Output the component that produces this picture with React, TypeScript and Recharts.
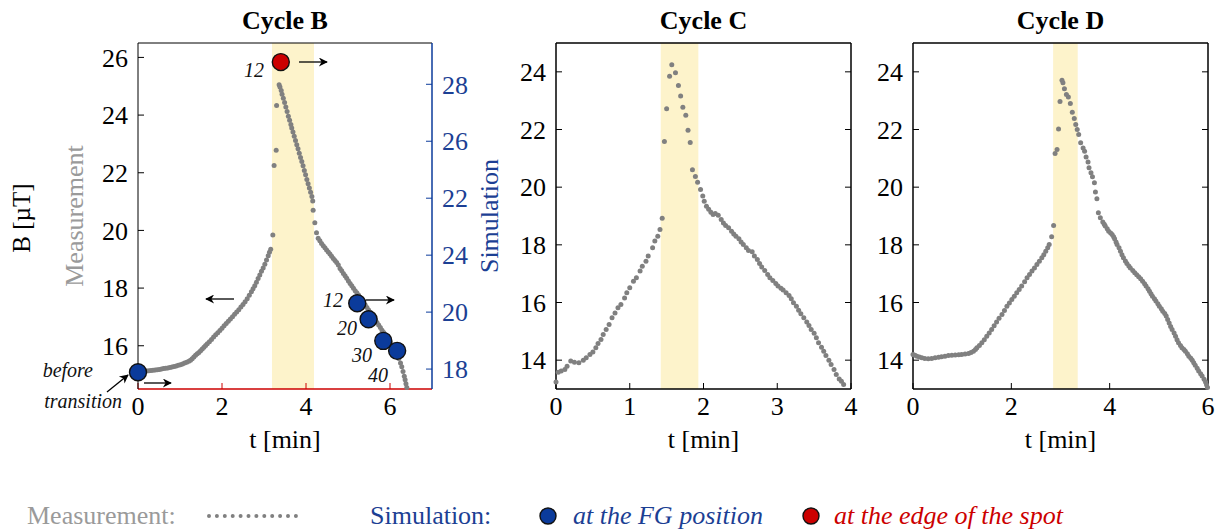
import { ScatterChart, Scatter, XAxis, YAxis, ReferenceArea } from 'recharts'

type Pt = [number, number]

const SERIF = '"Liberation Serif", "Times New Roman", serif'
const GRAY = '#808080'
const LABEL_GRAY = '#9a9a9a'
const BLUE = '#0b3b9b'
const TEXT_BLUE = '#1c3f94'
const RED = '#cc0000'
const SHADE = '#fdf3cb'

// ---- Cycle B measurement (t [min], B [uT]) ----
const cycleBMeasured: Pt[] = [
    [0.06, 15.09], [0.11, 15.1], [0.16, 15.11], [0.21, 15.12], [0.26, 15.13], [0.31, 15.14], [0.36, 15.15],
    [0.41, 15.16], [0.46, 15.17], [0.51, 15.18], [0.56, 15.19], [0.61, 15.21], [0.66, 15.22], [0.71, 15.23],
    [0.76, 15.25], [0.81, 15.26], [0.86, 15.28], [0.91, 15.3], [0.96, 15.32], [1.01, 15.34], [1.06, 15.37],
    [1.11, 15.4], [1.16, 15.43], [1.21, 15.46], [1.25, 15.5], [1.29, 15.55], [1.33, 15.61], [1.37, 15.67],
    [1.41, 15.72], [1.45, 15.77], [1.49, 15.83], [1.53, 15.89], [1.57, 15.95], [1.61, 16.01], [1.65, 16.07],
    [1.7, 16.14], [1.75, 16.22], [1.8, 16.3], [1.85, 16.38], [1.9, 16.45], [1.95, 16.53], [2.0, 16.61],
    [2.05, 16.69], [2.1, 16.77], [2.15, 16.85], [2.2, 16.93], [2.25, 17.01], [2.3, 17.09], [2.35, 17.17],
    [2.4, 17.25], [2.45, 17.34], [2.5, 17.43], [2.55, 17.53], [2.6, 17.63], [2.65, 17.75], [2.7, 17.87],
    [2.74, 17.98], [2.78, 18.08], [2.82, 18.2], [2.86, 18.33], [2.9, 18.45], [2.94, 18.58], [2.98, 18.7],
    [3.02, 18.83], [3.06, 18.97], [3.1, 19.12], [3.13, 19.24], [3.16, 19.35], [3.21, 19.84],
    [3.24, 22.25], [3.29, 22.78], [3.3, 24.33], [3.36, 25.05], [3.38, 24.97], [3.41, 24.85], [3.43, 24.72],
    [3.46, 24.58], [3.49, 24.44], [3.52, 24.28], [3.55, 24.12], [3.58, 23.96], [3.61, 23.82], [3.64, 23.67],
    [3.66, 23.55], [3.69, 23.41], [3.72, 23.27], [3.75, 23.12], [3.78, 22.97], [3.81, 22.83], [3.84, 22.68],
    [3.87, 22.53], [3.9, 22.39], [3.93, 22.24], [3.96, 22.08], [3.99, 21.93], [4.02, 21.77], [4.05, 21.62],
    [4.08, 21.47], [4.11, 21.32], [4.14, 21.18], [4.16, 21.02], [4.17, 20.7], [4.21, 20.27], [4.25, 19.92],
    [4.29, 19.73], [4.33, 19.64], [4.37, 19.55], [4.41, 19.47], [4.45, 19.4], [4.49, 19.32], [4.53, 19.25],
    [4.57, 19.18], [4.61, 19.1], [4.65, 19.03], [4.69, 18.96], [4.73, 18.89], [4.77, 18.8], [4.81, 18.68],
    [4.85, 18.6], [4.89, 18.51], [4.93, 18.43], [4.97, 18.34], [5.01, 18.25], [5.05, 18.16], [5.09, 18.08],
    [5.13, 17.99], [5.17, 17.91], [5.21, 17.84], [5.25, 17.76], [5.29, 17.67], [5.33, 17.58], [5.37, 17.5],
    [5.41, 17.41], [5.45, 17.33], [5.49, 17.24], [5.53, 17.16], [5.57, 17.07], [5.61, 16.98], [5.65, 16.9],
    [5.69, 16.81], [5.73, 16.72], [5.77, 16.63], [5.81, 16.54], [5.85, 16.46], [5.89, 16.37], [5.93, 16.28],
    [5.97, 16.2], [6.01, 16.11], [6.05, 16.01], [6.09, 15.91], [6.13, 15.81], [6.17, 15.69], [6.21, 15.56],
    [6.25, 15.4], [6.28, 15.27], [6.31, 15.11], [6.34, 14.94], [6.36, 14.82], [6.38, 14.68], [6.4, 14.55],
]

// ---- Cycle B simulation (right axis) ----
const simFGTime = [0, 5.22, 5.49, 5.84, 6.17]
const simFGValue = [17.89, 20.31, 19.75, 18.99, 18.64]
const simEdgeTime = [3.4]
const simEdgeValue = [28.78]
const simTickValues = [18, 20, 22, 24, 26, 28]
const simTickLabels = ['18', '20', '24', '22', '26', '28']

// ---- Cycle C measurement ----
const cycleCMeasured: Pt[] = [
    [0.0, 13.24], [0.03, 13.58], [0.07, 13.62], [0.12, 13.68], [0.15, 13.79], [0.2, 13.97], [0.25, 13.93],
    [0.31, 13.91], [0.37, 14.0], [0.41, 14.08], [0.46, 14.2], [0.5, 14.28], [0.54, 14.43], [0.57, 14.58],
    [0.61, 14.72], [0.64, 14.89], [0.68, 15.06], [0.72, 15.24], [0.76, 15.47], [0.8, 15.64], [0.84, 15.82],
    [0.88, 15.93], [0.93, 16.16], [0.96, 16.34], [1.0, 16.51], [1.05, 16.74], [1.09, 16.86], [1.14, 17.09],
    [1.17, 17.26], [1.22, 17.43], [1.25, 17.61], [1.31, 17.9], [1.34, 18.13], [1.38, 18.3], [1.41, 18.53],
    [1.44, 18.92],
    [1.47, 21.58], [1.5, 22.72], [1.54, 23.85], [1.57, 24.25], [1.62, 23.97], [1.66, 23.53], [1.69, 23.16],
    [1.72, 22.77], [1.76, 22.49], [1.79, 21.97], [1.82, 21.55], [1.85, 20.6], [1.89, 20.37], [1.92, 20.17],
    [1.96, 19.92], [1.99, 19.69], [2.01, 19.51], [2.04, 19.34], [2.07, 19.23], [2.1, 19.13], [2.13, 19.05],
    [2.16, 19.09], [2.2, 19.03], [2.24, 18.88], [2.27, 18.76], [2.3, 18.67], [2.34, 18.59], [2.38, 18.47],
    [2.41, 18.38], [2.44, 18.3], [2.48, 18.21], [2.51, 18.1], [2.54, 18.01], [2.58, 17.9], [2.61, 17.8],
    [2.66, 17.76], [2.69, 17.61], [2.73, 17.49], [2.76, 17.35], [2.79, 17.23], [2.83, 17.11], [2.87, 16.97],
    [2.9, 16.86], [2.94, 16.76], [2.98, 16.66], [3.01, 16.57], [3.05, 16.49], [3.08, 16.43], [3.12, 16.34],
    [3.16, 16.24], [3.19, 16.13], [3.22, 15.99], [3.26, 15.87], [3.29, 15.73], [3.32, 15.61], [3.36, 15.47],
    [3.4, 15.32], [3.43, 15.2], [3.46, 15.06], [3.5, 14.93], [3.53, 14.78], [3.56, 14.6], [3.6, 14.45],
    [3.63, 14.31], [3.66, 14.16], [3.7, 14.0], [3.73, 13.85], [3.77, 13.68], [3.8, 13.5], [3.84, 13.35],
    [3.87, 13.27], [3.9, 13.16],
]

// ---- Cycle D measurement ----
const cycleDMeasured: Pt[] = [
    [0.0, 14.2], [0.04, 14.17], [0.08, 14.14], [0.13, 14.11], [0.18, 14.08], [0.24, 14.06], [0.31, 14.05],
    [0.38, 14.06], [0.45, 14.08], [0.52, 14.1], [0.58, 14.12], [0.65, 14.14], [0.72, 14.16], [0.79, 14.17],
    [0.86, 14.18], [0.93, 14.19], [0.99, 14.2], [1.06, 14.21], [1.13, 14.23], [1.18, 14.27], [1.23, 14.31],
    [1.27, 14.37], [1.3, 14.43], [1.35, 14.51], [1.4, 14.6], [1.45, 14.71], [1.5, 14.83], [1.55, 14.94],
    [1.6, 15.06], [1.65, 15.19], [1.7, 15.32], [1.75, 15.45], [1.81, 15.58], [1.86, 15.72], [1.91, 15.87],
    [1.96, 15.98], [2.01, 16.1], [2.06, 16.22], [2.11, 16.34], [2.16, 16.45], [2.21, 16.57], [2.27, 16.72],
    [2.32, 16.86], [2.37, 16.97], [2.42, 17.09], [2.47, 17.2], [2.52, 17.32], [2.57, 17.43], [2.62, 17.55],
    [2.66, 17.66], [2.7, 17.78], [2.74, 17.9], [2.77, 18.01], [2.82, 18.28], [2.86, 18.67],
    [2.89, 21.17], [2.93, 21.31], [2.96, 22.02], [2.99, 22.97], [3.03, 23.71], [3.05, 23.62], [3.08, 23.41],
    [3.12, 23.21], [3.16, 23.13], [3.2, 22.9], [3.24, 22.6], [3.28, 22.38], [3.31, 22.17], [3.34, 22.0],
    [3.37, 21.83], [3.41, 21.54], [3.46, 21.36], [3.49, 21.25], [3.52, 21.05], [3.56, 20.87], [3.58, 20.67],
    [3.62, 20.5], [3.65, 20.36], [3.69, 20.15], [3.71, 19.83], [3.74, 19.6], [3.77, 19.11], [3.81, 18.94],
    [3.86, 18.79], [3.89, 18.71], [3.91, 18.65], [3.95, 18.56], [3.98, 18.47], [4.02, 18.41], [4.05, 18.36],
    [4.08, 18.28], [4.1, 18.21], [4.13, 18.1], [4.15, 18.01], [4.19, 17.9], [4.22, 17.78], [4.25, 17.66],
    [4.28, 17.55], [4.32, 17.44], [4.35, 17.35], [4.39, 17.27], [4.42, 17.2], [4.47, 17.11], [4.51, 17.03],
    [4.55, 16.96], [4.59, 16.89], [4.63, 16.82], [4.67, 16.74], [4.71, 16.65], [4.74, 16.57], [4.78, 16.48],
    [4.81, 16.39], [4.84, 16.3], [4.87, 16.22], [4.91, 16.13], [4.94, 16.05], [4.98, 15.96], [5.01, 15.87],
    [5.05, 15.78], [5.08, 15.7], [5.12, 15.62], [5.15, 15.53], [5.18, 15.41], [5.21, 15.29], [5.24, 15.17],
    [5.27, 15.06], [5.31, 14.94], [5.34, 14.83], [5.37, 14.71], [5.4, 14.6], [5.44, 14.51], [5.47, 14.43],
    [5.51, 14.37], [5.54, 14.31], [5.58, 14.22], [5.61, 14.14], [5.65, 14.07], [5.68, 14.0], [5.71, 13.91],
    [5.74, 13.82], [5.78, 13.72], [5.81, 13.62], [5.85, 13.53], [5.88, 13.45], [5.92, 13.34], [5.95, 13.24],
    [5.97, 13.15], [5.99, 13.05],
]

// shaded transition windows [start, end] in min
const shadeB = [3.19, 4.19]
const shadeC = [1.42, 1.93]
const shadeD = [2.85, 3.35]

const toPoints = (arr: Pt[]) => arr.map(([t, v]) => ({ t, v }))
const zip = (ts: number[], vs: number[]) => ts.map((t, i) => ({ t, v: vs[i] }))

const tickText = { fontFamily: SERIF, fontSize: 26, fill: '#000' }
const noLabel = () => ''

const grayDot = (p: any) => <circle cx={p.cx} cy={p.cy} r={2.5} fill={GRAY} />
const bigDot = (fill: string) => (p: any) => (
    <circle cx={p.cx} cy={p.cy} r={8.5} fill={fill} stroke="#111" strokeWidth={1.4} />
)

function CycleB() {
    return (
        <div style={{ position: 'absolute', left: 0, top: 0 }}>
            <ScatterChart width={520} height={440} margin={{ top: 23, right: 28, bottom: 21, left: 48 }}>
                <XAxis xAxisId="x" dataKey="t" type="number" domain={[0, 7]} ticks={[0, 2, 4, 6]} interval={0}
                    height={30} tickSize={-6} tickMargin={14} tick={tickText}
                    axisLine={{ stroke: RED, strokeWidth: 1.5 }} tickLine={{ stroke: RED }} />
                <XAxis xAxisId="top" orientation="top" type="number" domain={[0, 7]} ticks={[0, 2, 4, 6]}
                    interval={0} height={20} tickSize={-6} tickFormatter={noLabel} allowDataOverflow
                    axisLine={{ stroke: '#000' }} tickLine={{ stroke: '#000' }} />
                <YAxis yAxisId="m" dataKey="v" type="number" domain={[14.5, 26.5]} ticks={[16, 18, 20, 22, 24, 26]}
                    interval={0} width={90} tickSize={-6} tickMargin={16} tick={tickText}
                    axisLine={{ stroke: '#000' }} tickLine={{ stroke: '#000' }} />
                <YAxis yAxisId="s" orientation="right" dataKey="v" type="number" domain={[17.3, 29.45]}
                    ticks={simTickValues} interval={0} width={60} tickSize={-6} tickMargin={16}
                    tickFormatter={(_v: number, i: number) => simTickLabels[i]}
                    tick={{ ...tickText, fill: TEXT_BLUE }}
                    axisLine={{ stroke: BLUE, strokeWidth: 1.5 }} tickLine={{ stroke: BLUE }} />
                <ReferenceArea xAxisId="x" yAxisId="m" x1={shadeB[0]} x2={shadeB[1]} fill={SHADE} fillOpacity={1}
                    stroke="none" />
                <Scatter xAxisId="x" yAxisId="m" data={toPoints(cycleBMeasured)} shape={grayDot}
                    isAnimationActive={false} />
                <Scatter xAxisId="x" yAxisId="s" data={zip(simFGTime, simFGValue)} shape={bigDot(BLUE)}
                    isAnimationActive={false} />
                <Scatter xAxisId="x" yAxisId="s" data={zip(simEdgeTime, simEdgeValue)} shape={bigDot(RED)}
                    isAnimationActive={false} />
            </ScatterChart>
        </div>
    )
}

interface CycleProps {
    left: number
    data: Pt[]
    xMax: number
    xTicks: number[]
    shade: number[]
}

function CyclePanel({ left, data, xMax, xTicks, shade }: CycleProps) {
    return (
        <div style={{ position: 'absolute', left, top: 0 }}>
            <ScatterChart width={374} height={440} margin={{ top: 23, right: 0, bottom: 21, left: 0 }}>
                <XAxis xAxisId="x" dataKey="t" type="number" domain={[0, xMax]} ticks={xTicks} interval={0}
                    height={30} tickSize={-6} tickMargin={14} tick={tickText}
                    axisLine={{ stroke: '#000', strokeWidth: 1.5 }} tickLine={{ stroke: '#000' }} />
                <XAxis xAxisId="top" orientation="top" type="number" domain={[0, xMax]} ticks={xTicks}
                    interval={0} height={20} tickSize={-6} tickFormatter={noLabel} allowDataOverflow
                    axisLine={{ stroke: '#000', strokeWidth: 1.5 }} tickLine={{ stroke: '#000' }} />
                <YAxis yAxisId="y" dataKey="v" type="number" domain={[13, 25]} ticks={[14, 16, 18, 20, 22, 24]}
                    interval={0} width={60} tickSize={-6} tickMargin={16} tick={tickText}
                    axisLine={{ stroke: '#000', strokeWidth: 1.5 }} tickLine={{ stroke: '#000' }} />
                <YAxis yAxisId="r" orientation="right" type="number" domain={[13, 25]}
                    ticks={[14, 16, 18, 20, 22, 24]} interval={0} width={19} tickSize={-6}
                    tickFormatter={noLabel} allowDataOverflow
                    axisLine={{ stroke: '#000', strokeWidth: 1.5 }} tickLine={{ stroke: '#000' }} />
                <ReferenceArea xAxisId="x" yAxisId="y" x1={shade[0]} x2={shade[1]} fill={SHADE} fillOpacity={1}
                    stroke="none" />
                <Scatter xAxisId="x" yAxisId="y" data={toPoints(data)} shape={grayDot} isAnimationActive={false} />
            </ScatterChart>
        </div>
    )
}

function Overlay() {
    const it = { fontFamily: SERIF, fontSize: 20, fontStyle: 'italic' as const, fill: '#111' }
    const arrow = { stroke: '#000', strokeWidth: 1.3, markerEnd: 'url(#ah)' }
    return (
        <svg width={1217} height={529} style={{ position: 'absolute', left: 0, top: 0, pointerEvents: 'none' }}>
            <defs>
                <marker id="ah" viewBox="0 0 10 10" refX="9" refY="5" markerUnits="userSpaceOnUse"
                    markerWidth="12" markerHeight="9" orient="auto">
                    <path d="M0,0 L10,5 L0,10 L3,5 z" fill="#000" />
                </marker>
            </defs>
            {/* titles */}
            <g fontFamily={SERIF} fontSize={26} fontWeight="bold" textAnchor="middle" fill="#000">
                <text x={285} y={29}>Cycle B</text>
                <text x={703.5} y={29}>Cycle C</text>
                <text x={1060.5} y={29}>Cycle D</text>
            </g>
            {/* axis titles */}
            <text transform="translate(30,218) rotate(-90)" textAnchor="middle" fontFamily={SERIF} fontSize={25}
                fill="#000">B [µT]</text>
            <text transform="translate(83,216) rotate(-90)" textAnchor="middle" fontFamily={SERIF} fontSize={26}
                fill={LABEL_GRAY}>Measurement</text>
            <text transform="translate(498,216) rotate(-90)" textAnchor="middle" fontFamily={SERIF} fontSize={26}
                fill={TEXT_BLUE}>Simulation</text>
            <g fontFamily={SERIF} fontSize={26} textAnchor="middle" fill="#000">
                <text x={285} y={448}>t [min]</text>
                <text x={703.5} y={448}>t [min]</text>
                <text x={1060.5} y={448}>t [min]</text>
            </g>
            {/* annotations in cycle B */}
            <g {...it} textAnchor="end">
                <text x={264} y={77}>12</text>
                <text x={343} y={307}>12</text>
                <text x={357} y={335}>20</text>
                <text x={372} y={362}>30</text>
                <text x={388} y={382}>40</text>
                <text x={93} y={377}>before</text>
                <text x={122} y={408}>transition</text>
            </g>
            <line x1={299} y1={62} x2={327} y2={62} {...arrow} />
            <line x1={366} y1={300} x2={394} y2={300} {...arrow} />
            <line x1={234} y1={299} x2={206} y2={299} {...arrow} />
            <line x1={144} y1={383} x2={171} y2={383} {...arrow} />
            <line x1={107} y1={392} x2={128} y2={375} {...arrow} />
            {/* legend */}
            <text x={27} y={524} fontFamily={SERIF} fontSize={26} fill={LABEL_GRAY}>Measurement:</text>
            <line x1={209} y1={516} x2={297} y2={516} stroke={GRAY} strokeWidth={4} strokeLinecap="round"
                strokeDasharray="0 7.9" />
            <text x={370} y={524} fontFamily={SERIF} fontSize={26} fill={TEXT_BLUE}>Simulation:</text>
            <circle cx={548} cy={516} r={8} fill={BLUE} stroke="#111" strokeWidth={1.4} />
            <text x={573} y={524} fontFamily={SERIF} fontSize={26} fontStyle="italic" fill={TEXT_BLUE}>
                at the FG position
            </text>
            <circle cx={811} cy={516} r={8} fill={RED} stroke="#111" strokeWidth={1.4} />
            <text x={834} y={524} fontFamily={SERIF} fontSize={26} fontStyle="italic" fill={RED}>
                at the edge of the spot
            </text>
        </svg>
    )
}

export default function App() {
    return (
        <div style={{ position: 'absolute', left: 0, top: 0, width: 1217, height: 529, overflow: 'hidden',
            background: '#fff', fontFamily: SERIF }}>
            <CycleB />
            <CyclePanel left={496} data={cycleCMeasured} xMax={4} xTicks={[0, 1, 2, 3, 4]} shade={shadeC} />
            <CyclePanel left={853} data={cycleDMeasured} xMax={6} xTicks={[0, 2, 4, 6]} shade={shadeD} />
            <Overlay />
        </div>
    )
}
